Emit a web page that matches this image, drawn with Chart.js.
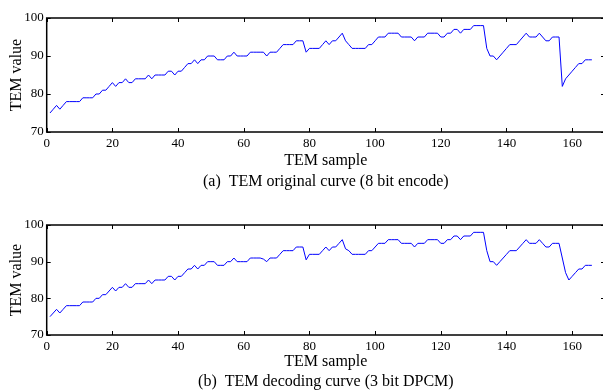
<!DOCTYPE html>
<html>
<head>
<meta charset="utf-8">
<script src="https://cdn.jsdelivr.net/npm/chart.js@4.4.0/dist/chart.umd.min.js"></script>
<style>
  html, body { margin: 0; padding: 0; background: #fff; overflow: hidden; }
  canvas { display: block; }
</style>
</head>
<body>
<canvas id="chartA" width="610" height="196"></canvas>
<canvas id="chartB" width="610" height="196"></canvas>
<script>
// sample 1..166, values
const temOriginal = [
  75, 76, 77, 76, 77, 78, 78, 78, 78, 78,
  79, 79, 79, 79, 80, 80, 81, 81, 82, 83,
  82, 83, 83, 84, 83, 83, 84, 84, 84, 84,
  85, 84, 85, 85, 85, 85, 86, 86, 85, 86,
  86, 87, 88, 88, 89, 88, 89, 89, 90, 90,
  90, 89, 89, 89, 90, 90, 91, 90, 90, 90,
  90, 91, 91, 91, 91, 91, 90, 91, 91, 91,
  92, 93, 93, 93, 93, 94, 94, 94, 91, 92,
  92, 92, 92, 93, 94, 93, 94, 94, 95, 96,
  94, 93, 92, 92, 92, 92, 92, 93, 93, 94,
  95, 95, 95, 96, 96, 96, 96, 95, 95, 95,
  95, 94, 95, 95, 95, 96, 96, 96, 96, 95,
  95, 96, 96, 97, 97, 96, 97, 97, 97, 98,
  98, 98, 98, 92, 90, 90, 89, 90, 91, 92,
  93, 93, 93, 94, 95, 96, 95, 95, 95, 96,
  95, 94, 94, 95, 95, 95, 82, 84, 85, 86,
  87, 88, 88, 89, 89, 89
];
const temDecoded = [
  75, 76, 77, 76, 77, 78, 78, 78, 78, 78,
  79, 79, 79, 79, 80, 80, 81, 81, 82, 83,
  82, 83, 83, 84, 83, 83, 84, 84, 84, 84,
  85, 84, 85, 85, 85, 85, 86, 86, 85, 86,
  86, 87, 88, 88, 89, 88, 89, 89, 90, 90,
  90, 89, 89, 89, 90, 90, 91, 90, 90, 90,
  90, 91, 91, 91, 91, 90.7, 90, 91, 91, 91,
  92, 93, 93, 93, 93, 94, 94, 94, 90.5, 92,
  92, 92, 92, 93, 94, 93, 94, 94, 95, 96,
  93.5, 93, 92, 92, 92, 92, 92, 93, 93, 94,
  95, 95, 95, 96, 96, 96, 96, 95, 95, 95,
  95, 94, 95, 95, 95, 96, 96, 96, 96, 95,
  95, 96, 96, 97, 97, 96, 97, 97, 97, 98,
  98, 98, 98, 93, 90, 90, 89, 90, 91, 92,
  93, 93, 93, 94, 95, 96, 95, 95, 95, 96,
  95, 94, 94, 95, 95, 95, 91, 87, 85, 86,
  87, 88, 88, 89, 89, 89
];
const xMin = 0, xMax = 170, xStep = 20;
const yMin = 70, yMax = 100, yStep = 10;
const xTitle = 'TEM sample';
const yTitle = 'TEM value';
const captionA = '(a)  TEM original curve (8 bit encode)';
const captionB = '(b)  TEM decoding curve (3 bit DPCM)';

const serif = 'Liberation Serif';

// MATLAB-style box with inward ticks on all four sides
const boxTicks = {
  id: 'boxTicks',
  afterDatasetsDraw(chart) {
    const { ctx, chartArea: a, scales: { x, y } } = chart;
    ctx.save();
    ctx.strokeStyle = '#000';
    ctx.lineWidth = 1;
    ctx.beginPath();
    x.ticks.forEach(t => {
      const px = Math.round(x.getPixelForValue(t.value)) + 0.5;
      ctx.moveTo(px, a.bottom); ctx.lineTo(px, a.bottom - 4);
      ctx.moveTo(px, a.top); ctx.lineTo(px, a.top + 4);
    });
    y.ticks.forEach(t => {
      const py = Math.round(y.getPixelForValue(t.value)) + 0.5;
      ctx.moveTo(a.left, py); ctx.lineTo(a.left + 4, py);
      ctx.moveTo(a.right, py); ctx.lineTo(a.right - 4, py);
    });
    ctx.stroke();
    ctx.lineWidth = 1.5;
    ctx.strokeRect(a.left, a.top, a.right - a.left, a.bottom - a.top);
    ctx.restore();
  }
};

function makeChart(id, values, caption, plotTop, plotBottom, titleLine, titlePad) {
  const canvas = document.getElementById(id);
  const h = canvas.height;
  return new Chart(canvas, {
    type: 'line',
    data: {
      datasets: [{
        data: values.map((v, i) => ({ x: i + 1, y: v })),
        borderColor: '#0000ff',
        borderWidth: 1,
        pointRadius: 0,
        tension: 0,
        fill: false
      }]
    },
    options: {
      responsive: false,
      animation: false,
      events: [],
      layout: { padding: { top: plotTop, right: 5, bottom: 0, left: 0 } },
      plugins: { legend: { display: false }, tooltip: { enabled: false } },
      scales: {
        x: {
          type: 'linear', min: xMin, max: xMax,
          grid: { display: false, drawTicks: false },
          border: { display: false },
          ticks: { stepSize: xStep, includeBounds: false, maxRotation: 0, color: '#000', padding: 4,
                   font: { family: serif, size: 13 } },
          title: { display: true, text: [xTitle, caption], color: '#000',
                   font: { family: serif, size: 16, lineHeight: titleLine }, padding: { top: 0, bottom: titlePad } },
          afterFit: s => { s.height = h - plotBottom; }
        },
        y: {
          min: yMin, max: yMax,
          grid: { display: false, drawTicks: false },
          border: { display: false },
          ticks: { stepSize: yStep, color: '#000', padding: 3, font: { family: serif, size: 13 } },
          title: { display: true, text: yTitle, color: '#000',
                   font: { family: serif, size: 16, lineHeight: 1.2 }, padding: { top: 7, bottom: 0 } },
          afterFit: s => { s.width = 46.7; }
        }
      }
    },
    plugins: [boxTicks]
  });
}

makeChart('chartA', temOriginal, captionA, 18, 132, 1.35, 3);
makeChart('chartB', temDecoded, captionB, 29, 139, 1.25, 0);
</script>
</body>
</html>
